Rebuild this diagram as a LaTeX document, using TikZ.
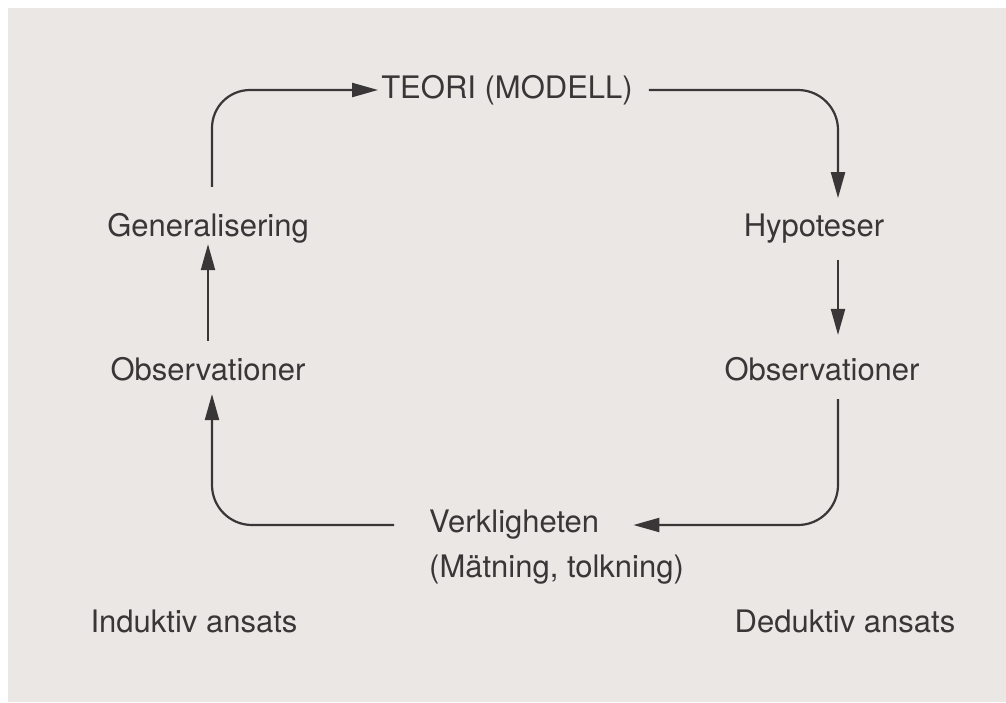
\documentclass[tikz,border=0pt]{standalone}
\usepackage{fontspec}
\setmainfont{TeX Gyre Heros}
\usetikzlibrary{arrows.meta}
\definecolor{paper}{RGB}{235,231,228}
\definecolor{ink}{RGB}{56,54,54}
\tikzset{
  lbl/.style={inner sep=0pt, text=ink, font=\fontsize{31}{46}\selectfont},
  arr/.style={draw=ink, line width=2.2pt, -{Triangle[length=26pt,width=14pt]}},
}
\begin{document}
\begin{tikzpicture}[x=1pt,y=-1pt]
\useasboundingbox (0,0) rectangle (1006,702);
\fill[white] (0,0) rectangle (1006,702);
\fill[paper] (8,8) rectangle (1006,702);

\node[lbl] (teori) at (507,90) {TEORI (MODELL)};
\node[lbl] (gen) at (208,228) {Generalisering};
\node[lbl] (hyp) at (814,229) {Hypoteser};
\node[lbl] (obsL) at (208,369) {Observationer};
\node[lbl] (obsR) at (822,369) {Observationer};
\node[lbl, anchor=west] (verk) at (429,525) {Verkligheten};
\node[lbl, anchor=west] (matn) at (429,570) {(Mätning, tolkning)};
\node[lbl] (ind) at (194,621) {Induktiv ansats};
\node[lbl] (ded) at (845,621) {Deduktiv ansats};

\coordinate (xl) at (212,0);
\coordinate (xr) at (838,0);

\draw[arr, rounded corners=38pt, shorten <=26pt, shorten >=3pt]
  (gen.north -| xl) |- (teori.west);
\draw[arr, rounded corners=40pt, shorten <=16pt, shorten >=16pt]
  (teori.east) -| (hyp.north -| xr);
\draw[arr, shorten <=16pt, shorten >=22pt]
  (hyp.south -| xr) -- (obsR.north -| xr);
\draw[arr, rounded corners=40pt, shorten <=18pt, shorten >=34pt]
  (obsR.south -| xr) |- (verk.east);
\draw[arr, rounded corners=40pt, shorten <=35pt, shorten >=13pt]
  (verk.west) -| (obsL.south -| xl);
\draw[arr, shorten <=16pt, shorten >=1pt]
  (obsL.north) -- (gen.south);
\end{tikzpicture}
\end{document}
